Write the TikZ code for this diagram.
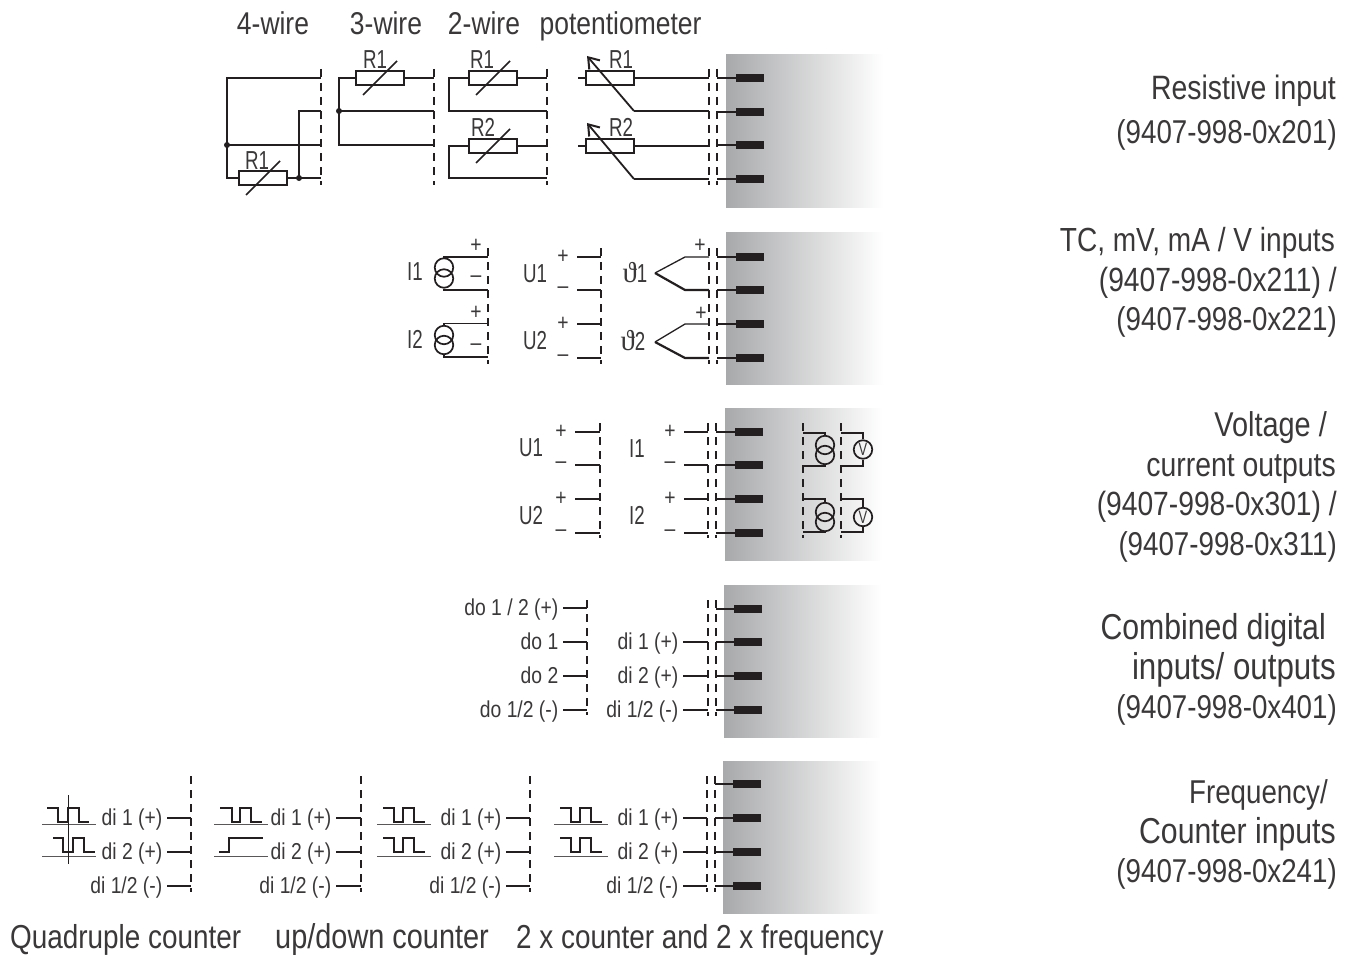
\documentclass[tikz,border=0pt]{standalone}
\usepackage{fontspec}
\setmainfont[FakeStretch=0.84]{Liberation Sans}
\newfontfamily\narrowf[FakeStretch=0.72]{Liberation Sans}
\newfontfamily\thetaf{Liberation Serif}
\usetikzlibrary{arrows.meta,calc}
\definecolor{ink}{HTML}{231F20}
\definecolor{txt}{HTML}{3A3839}
\definecolor{panelgray}{HTML}{A8A9AB}
\tikzset{
  wire/.style={draw=ink,line width=1.3pt},
  thick wire/.style={draw=ink,line width=2.2pt},
  base line/.style={draw=ink!75,line width=1pt},
  pulse/.style={draw=ink,line width=1.6pt},
  pot arrow/.style={line width=1.8pt,draw=ink,-{Straight Barb[length=10pt,width=14pt,line width=2pt]}},
  dash line/.style={draw=ink,line width=1.1pt,dash pattern=on 8pt off 6pt},
  terminal/.style={fill=ink,draw=none,minimum width=28pt,minimum height=7.5pt,inner sep=0pt},
  panel/.style={left color=panelgray,right color=white,draw=none,shading angle=90},
  resbox/.style={draw=ink,line width=1.4pt,minimum width=48pt,minimum height=14pt,inner sep=0pt},
  circ/.style={draw=ink,line width=1.7pt,circle,minimum size=18.5pt,inner sep=0pt},
  dot/.style={fill=ink,circle,minimum size=6pt,inner sep=0pt},
  capt/.style={text=txt,inner sep=0pt},
  big/.style={capt,font=\fontsize{33.8}{34}\selectfont},
  head/.style={capt,font=\fontsize{31.5}{32}\selectfont},
  mid/.style={capt,font=\narrowf\fontsize{26}{26}\selectfont},
  small/.style={capt,font=\fontsize{23}{24}\selectfont},
}
\newcommand{\termpanel}[7]{%
  \path[panel] (#2,#3) rectangle ++(157,152);
  \foreach \r/\yy in {a/#4,b/#5,c/#6,d/#7}{
    \node[terminal] (#1\r) at (#2+24,\yy) {};
  }
}
\newcommand{\resistor}[3]{%
  \node[resbox] (#1) at (#2,#3) {};
  \draw[line width=1.6pt,draw=ink] ([shift={(-17,17)}]#1.center) -- ([shift={(17,-17)}]#1.center);
}
\begin{document}
\begin{tikzpicture}[x=1pt,y=-1pt]
\useasboundingbox (0,0) rectangle (1354,955);
\path[fill=white] (0,0) rectangle (1354,955);

% ---------- panels
\termpanel{A}{726}{55}{78}{112}{145}{179}
\termpanel{B}{726}{232}{257}{290}{324}{358}
\termpanel{C}{725}{408}{432}{465}{499}{533}
\termpanel{D}{724}{585}{609}{642}{676}{710}
\termpanel{E}{723}{761}{784}{818}{852}{886}

% ---------- headings
\node[head,anchor=base] (h4) at (273,35) {4-wire};
\node[head,anchor=base] (h3) at (386,35) {3-wire};
\node[head,anchor=base] (h2) at (484,35) {2-wire};
\node[head,anchor=base] (hp) at (620.5,35) {potentiometer};

% ---------- panel A : 4-wire
\draw[dash line] (321,69) -- (321,185);
\resistor{ra}{263}{178}
\node[mid,anchor=base] (la) at (257,169) {R1};
\draw[wire] (321,78) -| (227,178) -- (ra.west);
\draw[wire] (ra.east) -- (321,178);
\draw[wire] (227,145) -- (321,145);
\draw[wire] (321,111) -| (299,178);
\node[dot] (d1) at (227,145) {};
\node[dot] (d2) at (299,178) {};
% 3-wire
\draw[dash line] (434,69) -- (434,185);
\resistor{rb}{380}{78}
\node[mid,anchor=base] (lb) at (375,69) {R1};
\draw[wire] (434,78) -- (rb.east);
\draw[wire] (rb.west) -| (339,145) -- (434,145);
\draw[wire] (339,111) -- (434,111);
\node[dot] (d3) at (339,111) {};
% 2-wire
\draw[dash line] (547,69) -- (547,185);
\resistor{rc}{493}{78}
\node[mid,anchor=base] (lc) at (482,69) {R1};
\draw[wire] (547,78) -- (rc.east);
\draw[wire] (rc.west) -| (449,111) -- (547,111);
\resistor{rd}{493}{146}
\node[mid,anchor=base] (ld) at (483,136) {R2};
\draw[wire] (547,146) -- (rd.east);
\draw[wire] (rd.west) -| (449,178) -- (547,178);
% potentiometer
\node[resbox] (re) at (610,78) {};
\node[resbox] (rf) at (610,146) {};
\node[mid,anchor=base] (le) at (621,69) {R1};
\node[mid,anchor=base] (lf) at (621,136) {R2};
\draw[wire] (re.west) -- ++(-7,0);
\draw[wire] (rf.west) -- ++(-7,0);
\draw[wire] (re.east) -- (709,78);
\draw[wire] (rf.east) -- (709,146);
\draw[wire] (709,111) -- (634,111);
\draw[pot arrow] (634,111) -- (587,56);
\draw[wire] (709,179) -- (634,179);
\draw[pot arrow] (634,179) -- (587,123);
\draw[dash line] (709,69) -- (709,185);
\draw[dash line] (717,69) -- (717,185);
\foreach \r in {a,b,c,d}{\draw[wire] (A\r.west) -- (A\r.west -| 717,0);}

% ---------- panel B
\draw[dash line] (488,248) -- (488,364);
\node[circ] (i1a) at (444,267.5) {};
\node[circ] (i1b) at (444,278.5) {};
\node[circ] (i2a) at (444,335) {};
\node[circ] (i2b) at (444,345) {};
\draw[wire] (i1a.north) -- (444,257) -- (488,257);
\draw[wire] (i1b.south) -- (444,290) -- (488,290);
\draw[wire] (i2a.north) -- (444,323.5) -- (488,323.5);
\draw[wire] (i2b.south) -- (444,357) -- (488,357);
\node[mid,anchor=base] (bi1) at (415,280) {I1};
\node[mid,anchor=base] (bi2) at (415,348) {I2};
\node[small] (bp1) at (476,246) {+};
\node[small] (bm1) at (476,279) {–};
\node[small] (bp2) at (476,313) {+};
\node[small] (bm2) at (476,347) {–};
\draw[dash line] (601,248) -- (601,364);
\foreach \yy/\s in {257/+,290/–,324/+,358/–}{
  \draw[wire] (577,\yy) -- (601,\yy);
  \node[small] at (563,\yy) {\s};
}
\node[mid,anchor=base] (bu1) at (535,282) {U1};
\node[mid,anchor=base] (bu2) at (535,349) {U2};
\node[mid,anchor=base] (bt1) at (635,282) {{\thetaf\fontsize{29}{29}\selectfont ϑ}1};
\node[mid,anchor=base] (bt2) at (633,350) {{\thetaf\fontsize{29}{29}\selectfont ϑ}2};
\draw[wire] (655,273) -- (685,257) -- (709,257);
\draw[thick wire] (655,273) -- (685,290) -- (709,290);
\draw[wire] (655,342) -- (685,324) -- (709,324);
\draw[thick wire] (655,342) -- (685,358) -- (709,358);
\node[small] (bp3) at (700,246) {+};
\node[small] (bp4) at (701,314) {+};
\draw[dash line] (709,248) -- (709,364);
\draw[dash line] (717,248) -- (717,364);
\foreach \r in {a,b,c,d}{\draw[wire] (B\r.west) -- (B\r.west -| 717,0);}

% ---------- panel C
\draw[dash line] (600,423) -- (600,538);
\foreach \yy/\s in {432/+,465/–,499/+,533/–}{
  \draw[wire] (575,\yy) -- (600,\yy);
  \node[small] at (561,\yy) {\s};
  \draw[wire] (684,\yy) -- (708,\yy);
  \node[small] at (670,\yy) {\s};
}
\node[mid,anchor=base] (cu1) at (531,456) {U1};
\node[mid,anchor=base] (cu2) at (531,524) {U2};
\node[mid,anchor=base] (ci1) at (637,457) {I1};
\node[mid,anchor=base] (ci2) at (637,524) {I2};
\draw[dash line] (708,423) -- (708,538);
\draw[dash line] (716,423) -- (716,538);
\foreach \r in {a,b,c,d}{\draw[wire] (C\r.west) -- (C\r.west -| 716,0);}
\draw[dash line] (803,423) -- (803,538);
\draw[dash line] (841,423) -- (841,538);
\node[circ] (c1a) at (825,445) {};
\node[circ] (c1b) at (825,455) {};
\node[circ] (c2a) at (825,512) {};
\node[circ] (c2b) at (825,522) {};
\node[circ,font=\narrowf\fontsize{18}{18}\selectfont,text=txt] (v1) at (863,449.5) {V};
\node[circ,font=\narrowf\fontsize{18}{18}\selectfont,text=txt] (v2) at (863,517) {V};
\draw[wire] (803,433) -| (c1a.north);
\draw[wire] (803,466) -| (c1b.south);
\draw[wire] (803,499) -| (c2a.north);
\draw[wire] (803,532) -| (c2b.south);
\draw[wire] (841,433) -| (v1.north);
\draw[wire] (841,466) -| (v1.south);
\draw[wire] (841,499) -| (v2.north);
\draw[wire] (841,532) -| (v2.south);

% ---------- panel D
\draw[dash line] (587,600) -- (587,715);
\draw[dash line] (708,600) -- (708,716);
\draw[dash line] (716,600) -- (716,716);
\foreach \r in {a,b,c,d}{\draw[wire] (D\r.west) -- (D\r.west -| 716,0);}
\foreach \yy/\s in {607/{do 1 / 2 (+)},641/{do 1},675/{do 2},709/{do 1/2 (-)}}{
  \draw[wire] (563,\yy+1) -- (587,\yy+1);
  \node[small,anchor=base east] at (558.5,\yy+8) {\s};
}
\foreach \yy/\s in {641/{di 1 (+)},675/{di 2 (+)},709/{di 1/2 (-)}}{
  \draw[wire] (683,\yy+1) -- (708,\yy+1);
  \node[small,anchor=base east] at (678.5,\yy+8) {\s};
}

% ---------- panel E
\draw[dash line] (707,776) -- (707,892);
\draw[dash line] (715,776) -- (715,892);
\foreach \r in {a,b,c,d}{\draw[wire] (E\r.west) -- (E\r.west -| 715,0);}
\foreach \dx in {191,361,530}{\draw[dash line] (\dx,776) -- (\dx,892);}
\foreach \dx/\wx/\tx in {191/167/162.5,361/336/331.5,530/506/501.5,707/683/678.5}{
  \draw[wire] (\wx,818) -- (\dx,818);
  \draw[wire] (\wx,852) -- (\dx,852);
  \draw[wire] (\wx,886) -- (\dx,886);
  \node[small,anchor=base east] at (\tx,825) {di 1 (+)};
  \node[small,anchor=base east] at (\tx,859) {di 2 (+)};
  \node[small,anchor=base east] at (\tx,893) {di 1/2 (-)};
}
% pulse shapes
\draw[base line] (42,824) -- (96,824);
\draw[base line] (42,856) -- (96,856);
\draw[pulse] (47,808) -- (58,808) -- (58,822) -- (68,822) -- (68,808) -- (79,808) -- (79,822) -- (89,822);
\draw[pulse] (53,838) -- (63,838) -- (63,852) -- (73,852) -- (73,838) -- (84,838) -- (84,852) -- (95,852);
\draw[draw=ink,line width=0.9pt] (68,795) -- (68,864);
\draw[base line] (214,824) -- (268,824);
\draw[base line] (214,856) -- (268,856);
\draw[pulse] (220,808) -- (232,808) -- (232,822) -- (240,822) -- (240,808) -- (251,808) -- (251,822) -- (262,822);
\draw[pulse] (219,852) -- (229,852) -- (229,838) -- (263,838);
\foreach \bx/\px in {377/383,554/560}{
  \foreach \by/\pyy in {0/0,32/30}{
    \draw[base line] (\bx,824+\by) -- (\bx+54,824+\by);
    \draw[pulse] (\px,808+\pyy) -- (\px+11,808+\pyy) -- (\px+11,822+\pyy) -- (\px+20,822+\pyy) -- (\px+20,808+\pyy) -- (\px+31,808+\pyy) -- (\px+31,822+\pyy) -- (\px+42,822+\pyy);
  }
}

% ---------- right-hand captions
\node[big,anchor=base east] (t1) at (1336,100) {Resistive input};
\node[big,anchor=base east,font=\fontsize{33}{34}\selectfont] (t2) at (1337,143) {(9407-998-0x201)};
\node[big,anchor=base east,font=\fontsize{33.4}{34}\selectfont] (t3) at (1335,251) {TC, mV, mA / V inputs};
\node[big,anchor=base east,font=\fontsize{33.6}{34}\selectfont] (t4) at (1337,291) {(9407-998-0x211) /};
\node[big,anchor=base east,font=\fontsize{33}{34}\selectfont] (t5) at (1337,330) {(9407-998-0x221)};
\node[big,anchor=base east,font=\fontsize{34.4}{34}\selectfont] (t6) at (1327,436) {Voltage /};
\node[big,anchor=base east] (t7) at (1336,476) {current outputs};
\node[big,anchor=base east,font=\fontsize{33.6}{34}\selectfont] (t8) at (1337,515) {(9407-998-0x301) /};
\node[big,anchor=base east,font=\fontsize{33}{34}\selectfont] (t9) at (1337,555) {(9407-998-0x311)};
\node[big,anchor=base east,font=\fontsize{36}{36}\selectfont] (t10) at (1326,639) {Combined digital};
\node[big,anchor=base east,font=\fontsize{37.3}{36}\selectfont] (t11) at (1336,679) {inputs/ outputs};
\node[big,anchor=base east,font=\fontsize{33}{34}\selectfont] (t12) at (1337,718) {(9407-998-0x401)};
\node[big,anchor=base east,font=\fontsize{33}{34}\selectfont] (t13) at (1328,803) {Frequency/};
\node[big,anchor=base east,font=\fontsize{36}{36}\selectfont] (t14) at (1336,843) {Counter inputs};
\node[big,anchor=base east,font=\fontsize{33}{34}\selectfont] (t15) at (1337,882) {(9407-998-0x241)};

% ---------- bottom captions
\node[big,anchor=base west,font=\fontsize{33.2}{34}\selectfont] (b1) at (10,948) {Quadruple counter};
\node[big,anchor=base west,font=\fontsize{34.4}{34}\selectfont] (b2) at (275,948) {up/down counter};
\node[big,anchor=base west,font=\fontsize{33.2}{34}\selectfont] (b3) at (516,948) {2 x counter and 2 x frequency};
\end{tikzpicture}
\end{document}
